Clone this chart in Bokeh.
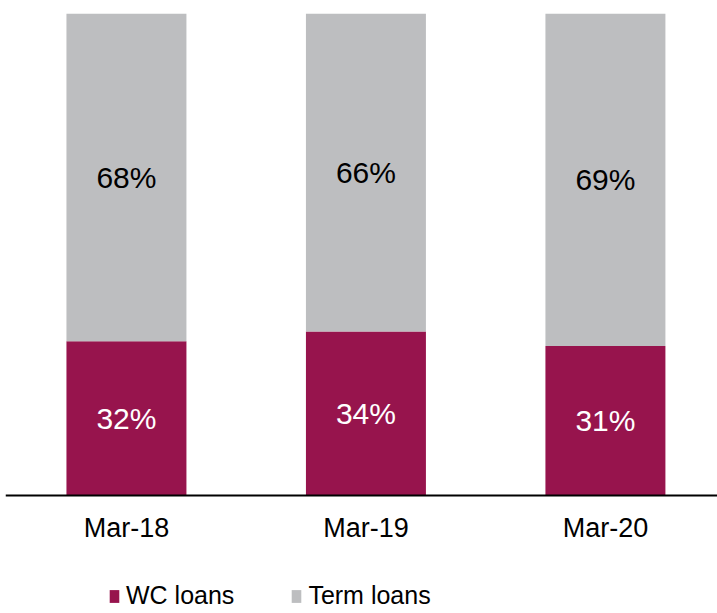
from bokeh.plotting import figure
from bokeh.models import ColumnDataSource, Range1d, Span, Legend, LegendItem
from bokeh.core.properties import value
from bokeh.embed import file_html
from bokeh.resources import INLINE

categories = ["Mar-18", "Mar-19", "Mar-20"]
wc_loans = [32, 34, 31]
term_loans = [68, 66, 69]

WC_COLOR = "#97144D"
TERM_COLOR = "#BDBEC0"
FONT = "Liberation Sans"

xs = list(range(len(categories)))
wc_top = [w / 100 for w in wc_loans]
term_top = [(w + t) / 100 for w, t in zip(wc_loans, term_loans)]
src = ColumnDataSource(dict(
    x=xs,
    base=[0] * len(xs),
    cat=categories,
    wc_top=wc_top,
    term_top=term_top,
    wc_mid=[w / 2 for w in wc_top],
    term_mid=[(a + b) / 2 for a, b in zip(wc_top, term_top)],
    wc_lbl=[f"{w}%" for w in wc_loans],
    term_lbl=[f"{t}%" for t in term_loans],
))

# frame spans the full height below the 13px top border; 482 px per 100%
p = figure(width=717, height=613, output_backend="svg", toolbar_location=None,
           x_range=Range1d(-0.505, 2.468), y_range=Range1d(-118 / 482, 1),
           min_border_left=5, min_border_right=0, min_border_top=13, min_border_bottom=0)
p.outline_line_color = None
p.grid.visible = False
p.xaxis.visible = False
p.yaxis.visible = False

r_wc = p.vbar(x="x", width=0.501, bottom=0, top="wc_top", source=src,
              fill_color=WC_COLOR, line_color=None)
r_term = p.vbar(x="x", width=0.501, bottom="wc_top", top="term_top", source=src,
                fill_color=TERM_COLOR, line_color=None)

p.add_layout(Span(location=0, dimension="width", line_color="black", line_width=2))

p.text(x="x", y="wc_mid", text="wc_lbl", source=src, text_color="white",
       text_align="center", text_baseline="middle",
       text_font=value(FONT), text_font_size="30px")
p.text(x="x", y="term_mid", text="term_lbl", source=src, text_color="black",
       text_align="center", text_baseline="middle",
       text_font=value(FONT), text_font_size="30px")

# category labels under the baseline
p.text(x="x", y="base", text="cat", source=src, text_color="black",
       text_align="center", text_baseline="middle", y_offset=32,
       text_font=value(FONT), text_font_size="27px")

legend = Legend(items=[LegendItem(label="WC loans", renderers=[r_wc]),
                       LegendItem(label="Term loans", renderers=[r_term])],
                orientation="horizontal", location=(103, 3),
                glyph_width=12, glyph_height=16, label_standoff=6, spacing=56,
                padding=0, margin=0, border_line_color=None, background_fill_alpha=0,
                label_text_font=FONT, label_text_font_size="25px",
                label_text_color="black")
p.add_layout(legend, "center")

open("out.html", "w").write(file_html(p, INLINE))
